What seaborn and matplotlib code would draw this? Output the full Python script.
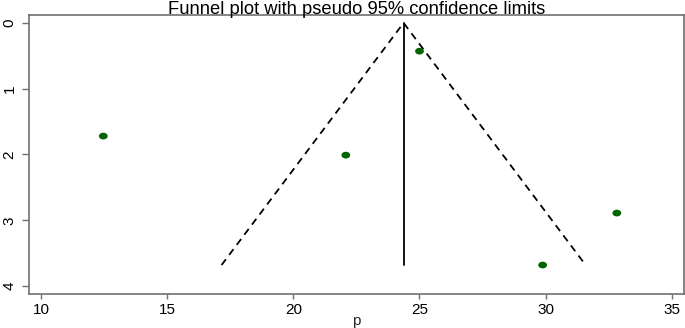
import numpy as np
import pandas as pd
import matplotlib
matplotlib.use('Agg')
import matplotlib.pyplot as plt
import seaborn as sns
from matplotlib.path import Path

# effect sizes (p) and standard errors
study_p = [12.47, 22.08, 25.0, 29.88, 32.82]
study_se = [1.72, 2.01, 0.43, 3.68, 2.89]
pooled_p = 24.37
z95 = 1.96

df = pd.DataFrame({'p': study_p, 'se': study_se})

# pseudo 95% confidence limits
se_max = max(study_se)
funnel = pd.DataFrame({
    'p': [pooled_p - z95 * se_max, pooled_p, pooled_p + z95 * se_max],
    'se': [se_max, 0, se_max],
})
centre = pd.DataFrame({'p': [pooled_p, pooled_p], 'se': [0, se_max]})

sns.set_style('white')
plt.rcParams['font.family'] = ['Liberation Sans', 'DejaVu Sans']
plt.rcParams['text.color'] = 'black'
plt.rcParams['xtick.color'] = 'black'
plt.rcParams['ytick.color'] = 'black'

fig = plt.figure(figsize=(6.85, 3.28), dpi=100)
ax = fig.add_axes([0.0423, 0.1037, 0.956, 0.8506])

# slightly flattened dot like the original
circle = Path.unit_circle()
ellipse = Path(circle.vertices * np.array([1.3, 1.0]), circle.codes)

sns.lineplot(data=funnel, x='p', y='se', sort=False, estimator=None,
             color='black', linestyle=(0, (4, 3)), linewidth=1.3, ax=ax)
sns.lineplot(data=centre, x='p', y='se', sort=False, estimator=None,
             color='black', linewidth=1.3, ax=ax)
sns.scatterplot(data=df, x='p', y='se', color='#006400', marker=ellipse,
                s=40, edgecolor='none', ax=ax, zorder=3)

ax.set_xlim(9.525, 35.475)
ax.set_ylim(4.12, -0.12)
ax.set_xticks([10, 15, 20, 25, 30, 35])
ax.set_yticks([0, 1, 2, 3, 4])
for lab in ax.get_yticklabels():
    lab.set_rotation(90)
    lab.set_va('center')

ax.tick_params(axis='x', direction='out', length=3.6, width=1, color='#707070',
               labelsize=11, pad=3, bottom=True)
ax.tick_params(axis='y', direction='out', length=5, width=1, color='#707070',
               labelsize=11, pad=4, left=True)
for sp in ax.spines.values():
    sp.set_color('#707070')
    sp.set_linewidth(1.2)

ax.set_xlabel('p', fontsize=11, labelpad=-2)
ax.set_ylabel('')
ax.set_title('Funnel plot with pseudo 95% confidence limits', fontsize=13.2, pad=1)

fig.savefig('out.png', dpi=100)
